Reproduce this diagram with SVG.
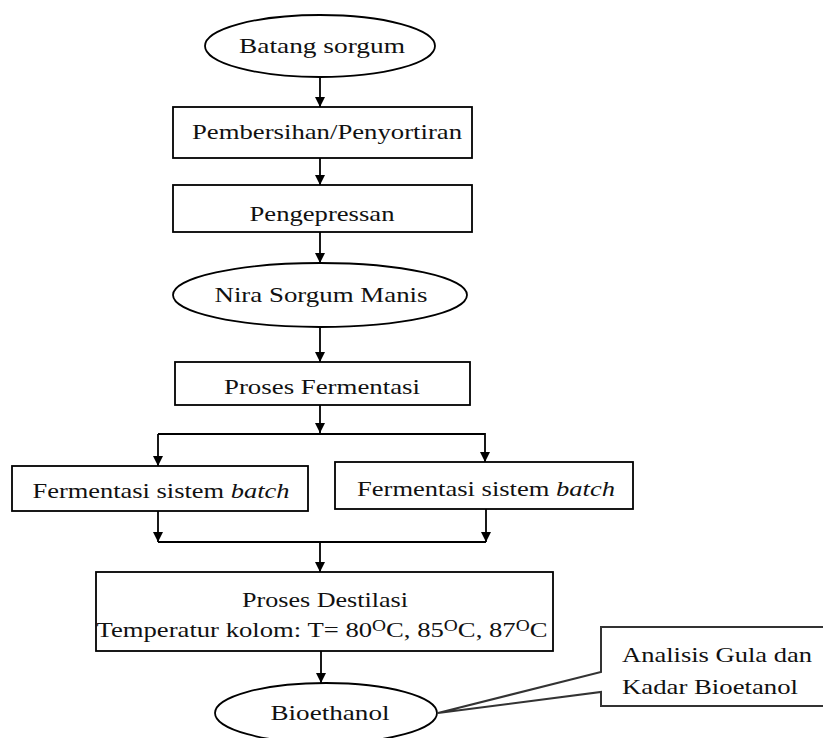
<svg xmlns="http://www.w3.org/2000/svg" width="823" height="738" viewBox="0 0 823 738">
<style>
.shape{fill:#fff;stroke:#000;stroke-width:1.8}
.conn{fill:none;stroke:#000;stroke-width:1.8}
text{font-family:"Liberation Serif","Times New Roman",serif;font-size:22px;fill:#111}
.c{text-anchor:middle}
</style>
<defs>
<marker id="ah" markerWidth="12" markerHeight="12" refX="10" refY="5.5" orient="auto" markerUnits="userSpaceOnUse">
<path d="M0,0.5 L10,5.5 L0,10.5 Z" fill="#000"/>
</marker>
</defs>
<rect width="823" height="738" fill="#fff"/>
<g id="connectors">
<line class="conn" x1="320" y1="78" x2="320" y2="107" marker-end="url(#ah)"/>
<line class="conn" x1="320" y1="158" x2="320" y2="185" marker-end="url(#ah)"/>
<line class="conn" x1="320" y1="232" x2="320" y2="263" marker-end="url(#ah)"/>
<line class="conn" x1="320" y1="328" x2="320" y2="362" marker-end="url(#ah)"/>
<line class="conn" x1="320" y1="405" x2="320" y2="433" marker-end="url(#ah)"/>
<polyline class="conn" points="158,434 485,434 485,462" marker-end="url(#ah)"/>
<line class="conn" x1="158" y1="434" x2="158" y2="466" marker-end="url(#ah)"/>
<line class="conn" x1="158" y1="511" x2="158" y2="542" marker-end="url(#ah)"/>
<line class="conn" x1="486" y1="509" x2="486" y2="542" marker-end="url(#ah)"/>
<line class="conn" x1="158" y1="542" x2="486" y2="542"/>
<line class="conn" x1="320" y1="542" x2="320" y2="572" marker-end="url(#ah)"/>
<line class="conn" x1="321" y1="651" x2="321" y2="683" marker-end="url(#ah)"/>
</g>
<g id="n1"><ellipse class="shape" cx="320" cy="46" rx="115" ry="31"/><text class="c" x="322" y="53" textLength="166" lengthAdjust="spacingAndGlyphs">Batang sorgum</text></g>
<g id="n2"><rect class="shape" x="173" y="107" width="299" height="51"/><text class="c" x="327" y="139" textLength="270" lengthAdjust="spacingAndGlyphs">Pembersihan/Penyortiran</text></g>
<g id="n3"><rect class="shape" x="173" y="185" width="299" height="47"/><text class="c" x="322" y="221" textLength="145" lengthAdjust="spacingAndGlyphs">Pengepressan</text></g>
<g id="n4"><ellipse class="shape" cx="320" cy="295" rx="147" ry="32"/><text class="c" x="321" y="302" textLength="213" lengthAdjust="spacingAndGlyphs">Nira Sorgum Manis</text></g>
<g id="n5"><rect class="shape" x="175" y="362" width="295" height="43"/><text class="c" x="322" y="394" textLength="196" lengthAdjust="spacingAndGlyphs">Proses Fermentasi</text></g>
<g id="n6"><rect class="shape" x="12" y="466" width="296" height="45"/><text class="c" x="161" y="498" textLength="257" lengthAdjust="spacingAndGlyphs">Fermentasi sistem <tspan font-style="italic">batch</tspan></text></g>
<g id="n7"><rect class="shape" x="335" y="462" width="298" height="47"/><text class="c" x="486" y="496" textLength="258" lengthAdjust="spacingAndGlyphs">Fermentasi sistem <tspan font-style="italic">batch</tspan></text></g>
<g id="n8"><rect class="shape" x="96" y="572" width="457" height="79"/>
<text class="c" x="325" y="607" textLength="166" lengthAdjust="spacingAndGlyphs">Proses Destilasi</text>
<text class="c" x="322" y="637" textLength="451" lengthAdjust="spacingAndGlyphs">Temperatur kolom: T= 80<tspan font-size="16" dy="-6">O</tspan><tspan dy="6">C, 85</tspan><tspan font-size="16" dy="-6">O</tspan><tspan dy="6">C, 87</tspan><tspan font-size="16" dy="-6">O</tspan><tspan dy="6">C</tspan></text></g>
<g id="n9"><ellipse class="shape" cx="326" cy="713" rx="111" ry="30"/><text class="c" x="330" y="720" textLength="119" lengthAdjust="spacingAndGlyphs">Bioethanol</text></g>
<g id="n10"><path d="M601,627 L830,627 L830,706 L601,706 L601,692 L438,713 L601,672 Z" fill="#fff" stroke="#333" stroke-width="2"/>
<text x="622" y="662" textLength="190" lengthAdjust="spacingAndGlyphs">Analisis Gula dan</text>
<text x="622" y="694" textLength="176" lengthAdjust="spacingAndGlyphs">Kadar Bioetanol</text></g>
</svg>
